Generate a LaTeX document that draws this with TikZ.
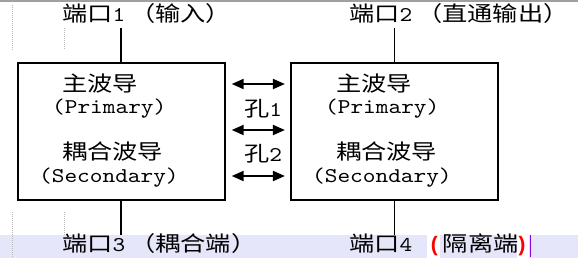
\documentclass[tikz,border=0pt]{standalone}
\usepackage{fontspec}
\setmainfont{lmmono10-regular}[Extension=.otf, FakeStretch=1.15]
\newfontfamily\redbf{Liberation Mono Bold}
\newfontfamily\cjk[FakeStretch=1.2]{Noto Sans CJK SC}
\usetikzlibrary{arrows.meta}
\definecolor{band}{RGB}{230,230,250}
\definecolor{dotgray}{RGB}{185,185,185}
\definecolor{cursorc}{RGB}{140,0,230}
\definecolor{topbar}{RGB}{160,160,160}
\begin{document}
\begin{tikzpicture}[x=1pt,y=-1pt,
  font=\fontsize{21}{25}\selectfont,
  box/.style={draw=black, line width=2pt, minimum width=207pt, minimum height=137pt, inner sep=0pt},
  lbl/.style={anchor=base west, inner sep=0pt},
  port/.style={line width=1.6pt},
  dbl/.style={line width=2pt, {Triangle[length=12pt,width=10pt]}-{Triangle[length=12pt,width=10pt]}},
  dots/.style={dotgray, line width=1pt, dash pattern=on 1pt off 1pt}]
\useasboundingbox (0,0) rectangle (578,265);
\fill[white] (0,0) rectangle (578,265);
% editor artefacts
\fill[topbar] (0,0) rectangle (578,2);
\fill[band] (0,235) rectangle (578,258);
\fill[white] (427,235) rectangle (440,258);
\fill[white] (517,235) rectangle (529,258);
\draw[dots] (12,5) -- (12,50);
\draw[dots] (64,28) -- (64,50);
\draw[dots] (12,212) -- (12,258);
\draw[dots] (64,212) -- (64,235);
\draw[cursorc, line width=1.2pt] (530.5,235) -- (530.5,257);
% boxes
\node[box] (L) at (121.2,131.8) {};
\node[box] (R) at (394.4,131.8) {};
% port ends
\coordinate (p1) at (121.2,28);
\coordinate (p2) at (394.4,28);
\coordinate (p3) at (121.2,235);
\coordinate (p4) at (394.4,235);
\draw[port] (L.north) -- (p1);
\draw[port] (R.north) -- (p2);
\draw[port] (L.south) -- (p3);
\draw[port] (R.south) -- (p4);
% port labels
\node[lbl] (t1) at (62,21) {{\cjk 端口}1\hspace{5pt}{\cjk （输入）}};
\node[lbl] (t2) at (349,21) {{\cjk 端口}2\hspace{5pt}{\cjk （直通输出）}};
\node[lbl] (t3) at (62,251) {{\cjk 端口}3\hspace{5pt}{\cjk （耦合端）}};
\node[lbl] (t4) at (349,251) {{\cjk 端口}4\hspace{16pt}{\color{red}\redbf(}\hspace{2pt}{\cjk 隔离端}\hspace{-3pt}{\color{red}\redbf)}};
% box texts
\node[lbl] (lm) at (62,91) {\cjk 主波导};
\node[lbl] (lp) at (52,113.5) {(Primary)};
\node[lbl] (lc) at (62,159) {\cjk 耦合波导};
\node[lbl] (ls) at (39,182) {(Secondary)};
\node[lbl] (rm) at (336,91) {\cjk 主波导};
\node[lbl] (rp) at (325,113.5) {(Primary)};
\node[lbl] (rc) at (336,159) {\cjk 耦合波导};
\node[lbl] (rs) at (312,182) {(Secondary)};
% coupling holes
\coordinate (h1) at (0,84);
\coordinate (h2) at (0,130);
\coordinate (h3) at (0,176);
\draw[dbl, shorten <=6pt, shorten >=5pt] (L.east |- h1) -- (R.west |- h1);
\draw[dbl, shorten <=6pt, shorten >=5pt] (L.east |- h2) -- (R.west |- h2);
\draw[dbl, shorten <=6pt, shorten >=5pt] (L.east |- h3) -- (R.west |- h3);
\node[lbl] (k1) at (244,116) {{\cjk 孔}1};
\node[lbl] (k2) at (244,161) {{\cjk 孔}2};
\end{tikzpicture}
\end{document}
